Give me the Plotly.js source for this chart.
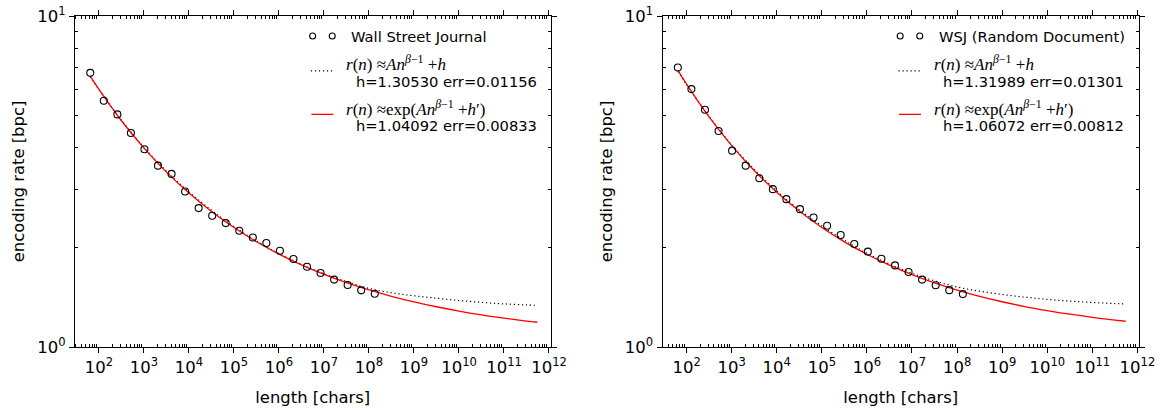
<!DOCTYPE html>
<html>
<head>
<meta charset="utf-8">
<script src="https://cdn.plot.ly/plotly-3.0.1.min.js"></script>
<style>html,body{margin:0;padding:0;background:#fff;}#chart{width:1163px;height:414px;}</style>
</head>
<body>
<div id="chart"></div>
<script>
// ---------- data ----------
const lengthN = [64,128,256,512,1024,2048,4096,8192,16384,32768,65536,131072,262144,524288,1048576,2097152,4194304,8388608,16777216,33554432,67108864,134217728];
const wsjRate = [6.734,5.544,5.044,4.432,3.957,3.531,3.334,2.949,2.628,2.491,2.368,2.244,2.142,2.061,1.954,1.844,1.748,1.673,1.598,1.540,1.483,1.449];
const rndRate = [6.991,6.013,5.208,4.493,3.919,3.531,3.236,2.998,2.797,2.609,2.461,2.324,2.179,2.047,1.941,1.848,1.764,1.685,1.598,1.537,1.485,1.445];

const curveN = [64,1e2,3.16e2,1e3,3.16e3,1e4,3.16e4,1e5,3.16e5,1e6,3.16e6,1e7,3.16e7,1e8,3.16e8,1e9,3.16e9,1e10,3.16e10,1e11,3.16e11,5.5e11];
const wsjFitPow = [6.550,5.990,4.840,4.010,3.400,2.940,2.590,2.310,2.090,1.915,1.775,1.665,1.576,1.503,1.458,1.428,1.404,1.382,1.364,1.350,1.340,1.336];
const wsjFitExp = [6.581,5.998,4.826,3.990,3.376,2.917,2.567,2.295,2.080,1.909,1.770,1.657,1.564,1.487,1.423,1.368,1.323,1.284,1.251,1.223,1.198,1.188];
const rndFitPow = [6.800,6.210,4.970,4.080,3.440,2.960,2.600,2.320,2.100,1.920,1.780,1.670,1.585,1.518,1.475,1.441,1.415,1.393,1.376,1.363,1.353,1.349];
const rndFitExp = [6.861,6.224,4.954,4.060,3.414,2.936,2.575,2.296,2.078,1.906,1.767,1.654,1.562,1.486,1.423,1.370,1.325,1.288,1.256,1.229,1.206,1.196];

const seriesNames = ["Wall Street Journal", "WSJ (Random Document)"];
const powLabel = "<i>r</i>(<i>n</i>) ≈<i>An</i><sup><i>β</i>−1</sup> +<i>h</i>";
const expLabel = "<i>r</i>(<i>n</i>) ≈exp(<i>An</i><sup><i>β</i>−1</sup> +<i>h</i>′)";
const powStats = ["h=1.30530 err=0.01156", "h=1.31989 err=0.01301"];
const expStats = ["h=1.04092 err=0.00833", "h=1.06072 err=0.00812"];

const xTickVals = [1e2,1e3,1e4,1e5,1e6,1e7,1e8,1e9,1e10,1e11,1e12];
const xTickText = ["10<sup>2</sup>","10<sup>3</sup>","10<sup>4</sup>","10<sup>5</sup>","10<sup>6</sup>","10<sup>7</sup>","10<sup>8</sup>","10<sup>9</sup>","10<sup>10</sup>","10<sup>11</sup>","10<sup>12</sup>"];
const yTickVals = [1,10];
const yTickText = ["10<sup>0</sup>","10<sup>1</sup>"];

// minor tick positions (2..9 per decade)
const xMinor = [];
for (let e = 1; e <= 12; e++) for (let m = 2; m <= 9; m++) xMinor.push(m * Math.pow(10, e));
const yMinor = [2,3,4,5,6,7,8,9];

// ---------- geometry (pixels) ----------
const W = 1163, H = 414;
const mL = 75, mR = 23.7, mT = 15.7, mB = 66.5;
const plotW = W - mL - mR, plotH = H - mT - mB;
const frames = [[75, 550.7], [662.7, 1139.3]];
const px = x => (x - mL) / plotW;
const py = y => (H - mB - y) / plotH;

const FONT = "DejaVu Sans, sans-serif";
const SERIF = "Liberation Serif, DejaVu Serif, serif";
const DOTS = "1.2px,2.8px";

function xAxis(dom, anchor) {
  return {
    type: "log", range: [1.467, 12.035], domain: dom, anchor: anchor,
    showline: true, linecolor: "#000", linewidth: 1, mirror: "allticks",
    ticks: "outside", ticklen: 5, tickcolor: "#000", tickwidth: 1,
    tickmode: "array", tickvals: xTickVals, ticktext: xTickText,
    tickfont: {family: FONT, size: 16.5, color: "#000"},
    minor: {tickmode: "array", tickvals: xMinor, ticks: "inside", ticklen: 3, tickcolor: "#000", tickwidth: 1},
    showgrid: false, zeroline: false,
    title: {text: "length [chars]", font: {family: FONT, size: 16.4, color: "#000"}, standoff: 15}
  };
}
function yAxis(anchor) {
  return {
    type: "log", range: [0, 1], anchor: anchor, domain: [0, 1],
    showline: true, linecolor: "#000", linewidth: 1, mirror: "allticks",
    ticks: "outside", ticklen: 5, tickcolor: "#000", tickwidth: 1,
    tickmode: "array", tickvals: yTickVals, ticktext: yTickText,
    tickfont: {family: FONT, size: 16.5, color: "#000"},
    minor: {tickmode: "array", tickvals: yMinor, ticks: "inside", ticklen: 3, tickcolor: "#000", tickwidth: 1},
    showgrid: false, zeroline: false,
    title: {text: "encoding rate [bpc]", font: {family: FONT, size: 16.4, color: "#000"}, standoff: 8}
  };
}

const rates = [wsjRate, rndRate];
const fitsPow = [wsjFitPow, rndFitPow];
const fitsExp = [wsjFitExp, rndFitExp];
const traces = [];
const shapes = [];
const annotations = [];

for (let k = 0; k < 2; k++) {
  const xa = k === 0 ? "x" : "x2", ya = k === 0 ? "y" : "y2";
  traces.push({x: curveN, y: fitsPow[k], xaxis: xa, yaxis: ya, mode: "lines",
    line: {color: "#000", width: 1.2, dash: DOTS, shape: "spline"}, showlegend: false, hoverinfo: "skip"});
  traces.push({x: curveN, y: fitsExp[k], xaxis: xa, yaxis: ya, mode: "lines",
    line: {color: "#ff0000", width: 1.3, shape: "spline"}, showlegend: false, hoverinfo: "skip"});
  traces.push({x: lengthN, y: rates[k], xaxis: xa, yaxis: ya, mode: "markers",
    marker: {symbol: "circle-open", size: 7, color: "#000", line: {width: 1.1, color: "#000"}},
    showlegend: false, hoverinfo: "skip"});

  // manual matplotlib-style legend
  const f = frames[k][0];
  [237.7, 257.3].forEach(dx => {
    shapes.push({type: "circle", xref: "paper", yref: "paper", xsizemode: "pixel", ysizemode: "pixel",
      xanchor: px(f + dx), yanchor: py(35.8), x0: -3, x1: 3, y0: -3, y1: 3,
      line: {color: "#000", width: 1.1}, fillcolor: "rgba(0,0,0,0)"});
  });
  shapes.push({type: "line", xref: "paper", yref: "paper", x0: px(f + 236), x1: px(f + 258), y0: py(70.7), y1: py(70.7),
    line: {color: "#000", width: 1.2, dash: DOTS}});
  shapes.push({type: "line", xref: "paper", yref: "paper", x0: px(f + 236.5), x1: px(f + 258.5), y0: py(114.3), y1: py(114.3),
    line: {color: "#ff0000", width: 1.3}});

  const txt = (x, y, text, fam, size) => annotations.push({xref: "paper", yref: "paper", x: px(x), y: py(y),
    xanchor: "left", yanchor: "middle", showarrow: false, text: text,
    font: {family: fam, size: size, color: "#000"}});
  txt(f + 274.5, 36, seriesNames[k], FONT, 14.7);
  txt(f + 269.5, 63, powLabel, SERIF, 17);
  txt(f + 278.8, 81.3, powStats[k], FONT, 14.7);
  txt(f + 269.5, 107.5, expLabel, SERIF, 17);
  txt(f + 278.8, 125.4, expStats[k], FONT, 14.7);
}

const layout = {
  width: W, height: H,
  margin: {l: mL, r: mR, t: mT, b: mB, pad: 0},
  paper_bgcolor: "#fff", plot_bgcolor: "#fff",
  showlegend: false,
  xaxis: xAxis([0, px(550.7)], "y"),
  yaxis: yAxis("x"),
  xaxis2: xAxis([px(662.7), 1], "y2"),
  yaxis2: yAxis("x2"),
  shapes: shapes,
  annotations: annotations,
  font: {family: FONT, color: "#000"}
};

Plotly.newPlot("chart", traces, layout, {staticPlot: true, displayModeBar: false});
</script>
</body>
</html>
